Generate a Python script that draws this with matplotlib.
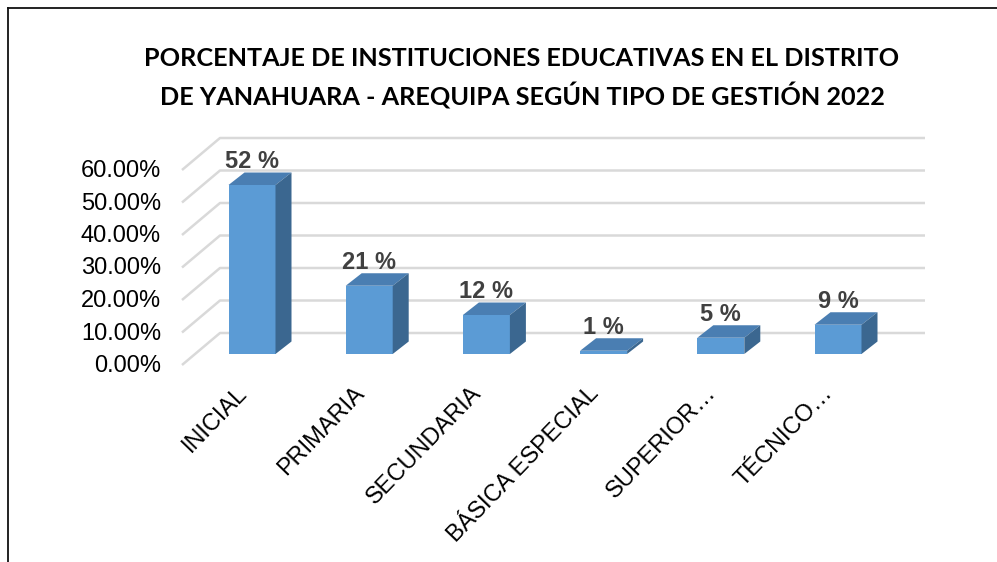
import numpy as np
import matplotlib.pyplot as plt
from matplotlib.patches import Polygon
from matplotlib.lines import Line2D

# data
categories = ['INICIAL', 'PRIMARIA', 'SECUNDARIA', 'BÁSICA ESPECIAL',
              'SUPERIOR…', 'TÉCNICO…']
values = [52, 21, 12, 1, 5, 9]
value_labels = ['52 %', '21 %', '12 %', '1 %', '5 %', '9 %']
yticks = [0, 10, 20, 30, 40, 50, 60]
title_lines = ['PORCENTAJE DE INSTITUCIONES EDUCATIVAS EN EL DISTRITO',
               'DE YANAHUARA - AREQUIPA SEGÚN TIPO DE GESTIÓN 2022']

W, H = 997, 562
# pixel geometry of the pseudo-3d plot
x0_px, step_px = 252, 117.2      # centre of first bar, distance between bars
y0_px, unit_px = 354, 3.25       # baseline of bar fronts, pixels per percent
box = (60, 110, 960, 390)        # axes box in pixels (left, top, right, bottom)

front = '#5B9BD5'
top_c = '#4A7EB2'
side_c = '#3B6790'
grid_c = '#D9D9D9'

fig = plt.figure(figsize=(W / 100, H / 100), dpi=100)
fig.patch.set_facecolor('white')
ax = fig.add_axes([box[0] / W, 1 - box[3] / H, (box[2] - box[0]) / W,
                   (box[3] - box[1]) / H])
ax.set_xlim((box[0] - x0_px) / step_px, (box[2] - x0_px) / step_px)
ax.set_ylim((y0_px - box[3]) / unit_px, (y0_px - box[1]) / unit_px)
ax.axis('off')

bw = 47 / step_px
dx, dy = 16 / step_px, 12.5 / unit_px
back_dy = 21 / unit_px
wall_front_x, wall_back_x = (182 - x0_px) / step_px, (220 - x0_px) / step_px
wall_right_x = (925 - x0_px) / step_px
label_dy = -12 / unit_px

# back wall grid and side wall lines
for v in yticks:
    ax.plot([wall_front_x, wall_back_x, wall_right_x],
            [v + label_dy + 1 / unit_px, v + back_dy, v + back_dy],
            color=grid_c, lw=1.8, solid_capstyle='butt', zorder=1)
    ax.text((161 - x0_px) / step_px, v + label_dy, f'{v:.2f}%',
            ha='right', va='center', fontsize=17,
            family='Liberation Sans', color='black')

x = np.arange(len(values))
ax.bar(x, values, width=bw, color=front, edgecolor='none', zorder=3)
for xi, v, lab in zip(x, values, value_labels):
    l, r = xi - bw / 2, xi + bw / 2
    ax.add_patch(Polygon([(l, v), (r, v), (r + dx, v + dy), (l + dx, v + dy)],
                         closed=True, facecolor=top_c, edgecolor='none', zorder=3))
    ax.add_patch(Polygon([(r, 0), (r + dx, dy), (r + dx, v + dy), (r, v)],
                         closed=True, facecolor=side_c, edgecolor='none', zorder=3))
    ax.text(xi, v + 23 / unit_px, lab, ha='center', va='center', fontsize=17,
            fontweight='bold', family='Liberation Sans', color='#404040', zorder=4)

for xi, cat in zip(x, categories):
    ax.text(xi - 0.14, (y0_px - 382) / unit_px, cat, rotation=46,
            rotation_mode='anchor', ha='right', va='top', fontsize=17,
            family='Liberation Sans', color='black', clip_on=False)

fig.text(522 / W, 1 - 58 / H, title_lines[0], ha='center', va='center',
         fontsize=18.2, fontweight='bold', family='Lato')
fig.text(522 / W, 1 - 96 / H, title_lines[1], ha='center', va='center',
         fontsize=18.2, fontweight='bold', family='Lato')

# chart frame
fig.add_artist(Line2D([8 / W, 1], [1 - 8 / H, 1 - 8 / H], color='#111111', lw=1.3))
fig.add_artist(Line2D([8 / W, 8 / W], [0, 1 - 8 / H], color='#111111', lw=1.3))

fig.savefig('out.png', dpi=100)
